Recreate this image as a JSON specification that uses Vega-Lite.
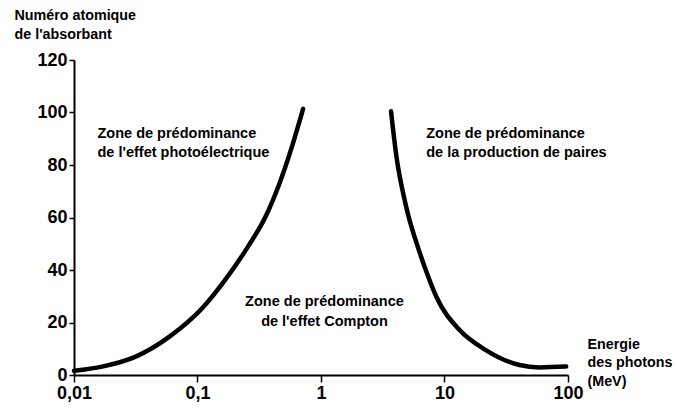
{
  "$schema": "https://vega.github.io/schema/vega-lite/v6.json",
  "width": 494,
  "height": 315,
  "autosize": {"type": "none"},
  "padding": {"left": 74, "top": 60, "right": 107, "bottom": 36},
  "background": "white",
  "config": {
    "view": {"stroke": null},
    "axis": {
      "grid": false,
      "domainColor": "black",
      "domainWidth": 2,
      "tickColor": "black",
      "tickWidth": 1.5,
      "labelColor": "black",
      "labelFont": "Liberation Sans, Arial, sans-serif",
      "labelFontSize": 18,
      "labelFontWeight": "bold",
      "titleColor": "black",
      "titleFont": "Liberation Sans, Arial, sans-serif",
      "titleFontSize": 14.3,
      "titleFontWeight": "bold",
      "titleLineHeight": 19
    }
  },
  "datasets": {
    "curves": [
      {"curve": "photo", "E": 0.01, "Z": 1.6},
      {"curve": "photo", "E": 0.0169, "Z": 3.2},
      {"curve": "photo", "E": 0.0316, "Z": 7.0},
      {"curve": "photo", "E": 0.0593, "Z": 14.6},
      {"curve": "photo", "E": 0.11, "Z": 25.6},
      {"curve": "photo", "E": 0.16, "Z": 35.0},
      {"curve": "photo", "E": 0.261, "Z": 49.5},
      {"curve": "photo", "E": 0.357, "Z": 60.5},
      {"curve": "photo", "E": 0.457, "Z": 72.5},
      {"curve": "photo", "E": 0.586, "Z": 87.5},
      {"curve": "photo", "E": 0.716, "Z": 101.4},
      {"curve": "paires", "E": 3.69, "Z": 100.5},
      {"curve": "paires", "E": 4.06, "Z": 84.0},
      {"curve": "paires", "E": 4.89, "Z": 64.2},
      {"curve": "paires", "E": 6.26, "Z": 47.0},
      {"curve": "paires", "E": 7.31, "Z": 38.0},
      {"curve": "paires", "E": 8.55, "Z": 30.0},
      {"curve": "paires", "E": 13.2, "Z": 17.2},
      {"curve": "paires", "E": 21.6, "Z": 9.5},
      {"curve": "paires", "E": 40.4, "Z": 3.8},
      {"curve": "paires", "E": 58.8, "Z": 2.9},
      {"curve": "paires", "E": 96.6, "Z": 3.2}
    ],
    "labels": [
      {"zone": "photo", "E": 0.0155, "Z": 92.0, "text": "Zone de prédominance"},
      {"zone": "photo", "E": 0.0155, "Z": 84.6, "text": "de l'effet photoélectrique"},
      {"zone": "paires", "E": 7.11, "Z": 92.0, "text": "Zone de prédominance"},
      {"zone": "paires", "E": 7.11, "Z": 84.6, "text": "de la production de paires"},
      {"zone": "compton", "E": 1.067, "Z": 27.8, "text": "Zone de prédominance"},
      {"zone": "compton", "E": 1.067, "Z": 20.2, "text": "de l'effet Compton"}
    ]
  },
  "layer": [
    {
      "data": {"name": "curves"},
      "mark": {"type": "line", "interpolate": "monotone", "color": "black", "strokeWidth": 4.5, "strokeCap": "round"},
      "encoding": {
        "x": {
          "field": "E", "type": "quantitative",
          "scale": {"type": "log", "domain": [0.01, 100], "nice": false},
          "axis": {
            "values": [0.01, 0.1, 1, 10, 100],
            "labelExpr": "datum.value == 0.01 ? '0,01' : datum.value == 0.1 ? '0,1' : format(datum.value, 'd')",
            "labelFlush": false,
            "labelOverlap": false,
            "tickSize": 7,
            "labelPadding": 2.5,
            "title": ["Energie", "des photons", "(MeV)"],
            "titleAngle": 0,
            "titleAlign": "left",
            "titleBaseline": "alphabetic",
            "titleX": 513,
            "titleY": -27,
            "titleLineHeight": 18.5
          }
        },
        "y": {
          "field": "Z", "type": "quantitative",
          "scale": {"domain": [0, 120], "nice": false, "zero": true},
          "axis": {
            "values": [0, 10, 20, 30, 40, 50, 60, 70, 80, 90, 100, 110, 120],
            "labelExpr": "datum.value % 20 == 0 ? datum.label : ''",
            "tickSize": 5,
            "labelPadding": 2,
            "labelOverlap": false,
            "title": ["Numéro atomique", "de l'absorbant"],
            "titleAngle": 0,
            "titleAlign": "left",
            "titleBaseline": "alphabetic",
            "titleX": -60,
            "titleY": -41
          }
        },
        "detail": {"field": "curve"}
      }
    },
    {
      "data": {"name": "labels"},
      "transform": [{"filter": "datum.zone != 'compton'"}],
      "mark": {"type": "text", "align": "left", "baseline": "middle", "font": "Liberation Sans, Arial, sans-serif", "fontSize": 14.5, "fontWeight": "bold", "color": "black"},
      "encoding": {
        "x": {"field": "E", "type": "quantitative"},
        "y": {"field": "Z", "type": "quantitative"},
        "text": {"field": "text"}
      }
    },
    {
      "data": {"name": "labels"},
      "transform": [{"filter": "datum.zone == 'compton'"}],
      "mark": {"type": "text", "align": "center", "baseline": "middle", "font": "Liberation Sans, Arial, sans-serif", "fontSize": 14.5, "fontWeight": "bold", "color": "black"},
      "encoding": {
        "x": {"field": "E", "type": "quantitative"},
        "y": {"field": "Z", "type": "quantitative"},
        "text": {"field": "text"}
      }
    }
  ]
}
